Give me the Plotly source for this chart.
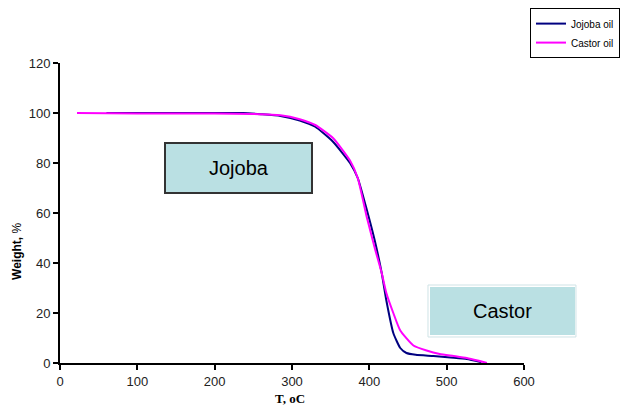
import plotly.graph_objects as go

# Data
jojoba_T = [60, 100, 150, 200, 237, 260, 285, 310, 330, 353, 375, 385, 397, 407, 416, 422, 431, 440, 448, 460, 483, 505, 526, 545]
jojoba_W = [100, 100, 100, 100, 100, 99.5, 98.8, 97, 94.5, 88.5, 80, 74, 61, 49, 36, 25, 12, 6, 4, 3.3, 2.8, 2.2, 1.6, 0.3]

castor_T = [22, 100, 150, 200, 250, 285, 310, 330, 353, 375, 385, 397, 407, 416, 422, 431, 440, 457, 474, 491, 509, 526, 540, 552]
castor_W = [100, 99.8, 99.8, 99.8, 99.6, 99.1, 97.5, 95.2, 90, 81, 74, 58, 46, 36, 28, 20, 13, 7, 5, 3.6, 2.8, 2, 1, 0]

x_ticks = [0, 100, 200, 300, 400, 500, 600]
y_ticks = [0, 20, 40, 60, 80, 100, 120]

FONT = "Liberation Sans, Arial, sans-serif"

fig = go.Figure()
fig.add_trace(go.Scatter(x=jojoba_T, y=jojoba_W, mode="lines", name="Jojoba oil",
                         line=dict(color="#000080", width=2, shape="spline", smoothing=0.5)))
fig.add_trace(go.Scatter(x=castor_T, y=castor_W, mode="lines", name="Castor oil",
                         line=dict(color="#FF00FF", width=2, shape="spline", smoothing=0.5)))

axis_common = dict(showline=True, linecolor="black", linewidth=2, ticks="outside",
                   ticklen=5, tickwidth=1.5, tickcolor="black", showgrid=False, zeroline=False,
                   tickfont=dict(family=FONT, size=13, color="#222"))

fig.update_xaxes(range=[0, 600], tickvals=x_ticks, **axis_common)
fig.update_yaxes(range=[0, 120], tickvals=y_ticks, **axis_common)

# Boxes
shapes = [
    dict(type="rect", xref="paper", yref="paper", x0=0.2263, x1=0.5431, y0=0.5667, y1=0.7333,
         fillcolor="#BAE0E3", line=dict(color="#333333", width=2), layer="above"),
    dict(type="rect", xref="paper", yref="paper", x0=0.7931, x1=1.112, y0=0.0867, y1=0.26,
         fillcolor="white", line=dict(color="#CFE3E6", width=1), layer="above"),
    dict(type="rect", xref="paper", yref="paper", x0=0.7974, x1=1.1099, y0=0.0933, y1=0.2533,
         fillcolor="#BAE0E3", line=dict(width=0), layer="above"),
]

annotations = [
    dict(text="Jojoba", xref="paper", yref="paper", x=0.3847, y=0.65, showarrow=False,
         xanchor="center", yanchor="middle",
         font=dict(family=FONT, size=20, color="black")),
    dict(text="Castor", xref="paper", yref="paper", x=0.9526, y=0.1733, showarrow=False,
         xanchor="center", yanchor="middle",
         font=dict(family=FONT, size=20, color="black")),
    dict(text="<b>Weight,</b> %", xref="paper", yref="paper", x=-0.093, y=0.373, showarrow=False,
         xanchor="center", yanchor="middle", textangle=-90,
         font=dict(family=FONT, size=12, color="black")),
    dict(text="<b>T, oC</b>", xref="paper", yref="paper", x=0.496, y=-0.117, showarrow=False,
         xanchor="center", yanchor="middle",
         font=dict(family="Liberation Serif, Times New Roman, serif", size=13, color="black")),
]

fig.update_layout(
    width=622, height=415,
    margin=dict(l=60, r=98, t=63, b=52, autoexpand=False),
    paper_bgcolor="white", plot_bgcolor="white",
    shapes=shapes, annotations=annotations,
    legend=dict(x=1.2069, y=1.183, xanchor="right", yanchor="top",
                bordercolor="black", borderwidth=1, bgcolor="white",
                font=dict(family=FONT, size=10, color="black"),
                itemwidth=30, tracegroupgap=0),
    showlegend=True,
)

fig.write_html("out.html")
